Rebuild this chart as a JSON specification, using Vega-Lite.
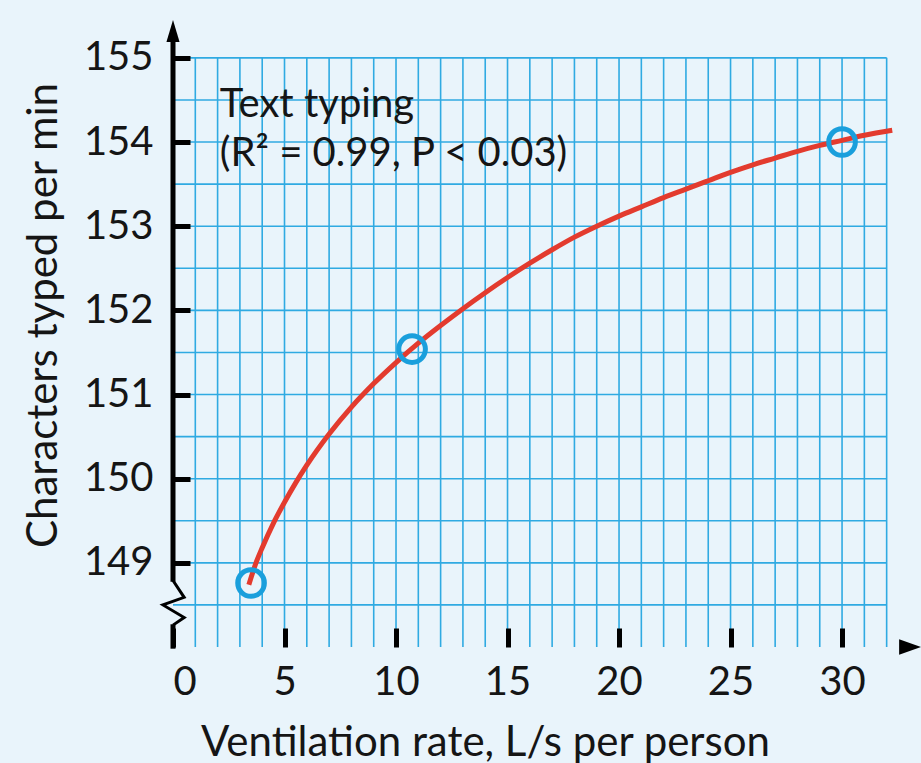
{
  "$schema": "https://vega.github.io/schema/vega-lite/v6.json",
  "width": 748,
  "height": 627,
  "autosize": {"type": "none"},
  "padding": {"left": 173, "top": 20, "right": 0, "bottom": 116},
  "background": "#e9f4fb",
  "config": {"view": {"stroke": null}, "font": "Lato"},
  "datasets": {
    "vgrid": [{"gx":1},{"gx":2},{"gx":3},{"gx":4},{"gx":5},{"gx":6},{"gx":7},{"gx":8},{"gx":9},{"gx":10},{"gx":11},{"gx":12},{"gx":13},{"gx":14},{"gx":15},{"gx":16},{"gx":17},{"gx":18},{"gx":19},{"gx":20},{"gx":21},{"gx":22},{"gx":23},{"gx":24},{"gx":25},{"gx":26},{"gx":27},{"gx":28},{"gx":29},{"gx":30},{"gx":31},{"gx":32}],
    "hgrid": [{"gy":148.5},{"gy":149},{"gy":149.5},{"gy":150},{"gy":150.5},{"gy":151},{"gy":151.5},{"gy":152},{"gy":152.5},{"gy":153},{"gy":153.5},{"gy":154},{"gy":154.5},{"gy":155}],
    "curve": [
      {"x":3.4,"y":148.74},{"x":3.75,"y":149.02},{"x":4,"y":149.18},{"x":4.5,"y":149.47},{"x":5,"y":149.72},
      {"x":5.5,"y":149.95},{"x":6,"y":150.16},{"x":7,"y":150.53},{"x":8,"y":150.85},{"x":9,"y":151.13},
      {"x":10,"y":151.38},{"x":11,"y":151.61},{"x":12,"y":151.82},{"x":13,"y":152.02},{"x":14,"y":152.21},
      {"x":15,"y":152.39},{"x":16,"y":152.56},{"x":17,"y":152.72},{"x":18,"y":152.87},{"x":19,"y":153.0},
      {"x":20,"y":153.12},{"x":21,"y":153.23},{"x":22,"y":153.34},{"x":23,"y":153.44},{"x":24,"y":153.54},
      {"x":25,"y":153.64},{"x":26,"y":153.73},{"x":27,"y":153.81},{"x":28,"y":153.89},{"x":29,"y":153.96},
      {"x":30,"y":154.02},{"x":31,"y":154.08},{"x":32.25,"y":154.14}
    ],
    "obs": [{"rate":3.5,"cpm":148.76},{"rate":10.72,"cpm":151.54},{"rate":30,"cpm":154.0}],
    "yaxis": [
      {"seg":"a","o":1,"x":0,"y":155.3},{"seg":"a","o":2,"x":0,"y":148.775},
      {"seg":"b","o":1,"x":0,"y":148.27},{"seg":"b","o":2,"x":0,"y":147.98}
    ],
    "zig": [
      {"o":1,"x":0,"y":148.79},{"o":2,"x":0.5,"y":148.59},{"o":3,"x":-0.45,"y":148.5},
      {"o":4,"x":0.5,"y":148.35},{"o":5,"x":0,"y":148.26}
    ],
    "arrows": [{"dir":"right","ax":33.05,"ay":148},{"dir":"up","ax":0,"ay":155.32}],
    "notes": [{"tx":2.1,"ty":154.3,"t":"Text typing"},{"tx":2.1,"ty":153.72,"t":"(R² = 0.99, P < 0.03)"}]
  },
  "layer": [
    {
      "data": {"name": "vgrid"},
      "mark": {"type": "rule", "color": "#2faae2", "strokeWidth": 1.6},
      "encoding": {
        "x": {"field": "gx", "type": "quantitative",
          "scale": {"domain": [0, 33.54], "nice": false, "zero": false},
          "axis": {"values": [0,5,10,15,20,25,30], "domain": false, "grid": false,
            "ticks": true, "tickColor": "#000", "tickWidth": 5, "tickSize": -19, "tickCap": "butt",
            "labelFontSize": 40, "labelColor": "#151515", "labelPadding": 34, "labelFont": "Lato",
            "title": "Ventilation rate, L/s per person", "titleFontSize": 42, "titleFontWeight": "normal",
            "titleColor": "#151515", "titleFont": "Lato", "titleX": 312, "titleY": 108,
            "titleAlign": "center", "titleAnchor": null, "titleBaseline": "alphabetic", "zindex": 1}},
        "y": {"datum": 148, "type": "quantitative",
          "scale": {"domain": [148, 155.45], "nice": false, "zero": false},
          "axis": {"values": [149,150,151,152,153,154,155], "format": "d", "domain": false, "grid": false,
            "ticks": true, "tickColor": "#000", "tickWidth": 5, "tickSize": -17, "tickCap": "butt",
            "labelFontSize": 40, "labelColor": "#151515", "labelPadding": 37, "labelFont": "Lato",
            "title": "Characters typed per min", "titleFontSize": 42, "titleFontWeight": "normal",
            "titleColor": "#151515", "titleFont": "Lato", "titleX": -117, "titleY": 295,
            "titleAlign": "center", "titleAnchor": null, "titleBaseline": "alphabetic", "zindex": 1}},
        "y2": {"datum": 155}
      }
    },
    {
      "data": {"name": "hgrid"},
      "mark": {"type": "rule", "color": "#2faae2", "strokeWidth": 1.6},
      "encoding": {
        "y": {"field": "gy", "type": "quantitative"},
        "x": {"datum": 0, "type": "quantitative"},
        "x2": {"datum": 32}
      }
    },
    {
      "data": {"name": "notes"},
      "mark": {"type": "text", "align": "left", "baseline": "alphabetic", "fontSize": 40, "font": "Lato", "color": "#151515"},
      "encoding": {
        "x": {"field": "tx", "type": "quantitative"},
        "y": {"field": "ty", "type": "quantitative"},
        "text": {"field": "t"}
      }
    },
    {
      "data": {"name": "curve"},
      "mark": {"type": "line", "color": "#e33b2e", "strokeWidth": 5, "interpolate": "monotone"},
      "encoding": {
        "x": {"field": "x", "type": "quantitative"},
        "y": {"field": "y", "type": "quantitative"}
      }
    },
    {
      "data": {"name": "obs"},
      "mark": {"type": "point", "shape": "circle", "filled": false, "stroke": "#1a9fdc", "strokeWidth": 5, "size": 710, "opacity": 1},
      "encoding": {
        "x": {"field": "rate", "type": "quantitative"},
        "y": {"field": "cpm", "type": "quantitative"}
      }
    },
    {
      "data": {"name": "yaxis"},
      "mark": {"type": "line", "color": "#000", "strokeWidth": 5, "strokeCap": "butt"},
      "encoding": {
        "x": {"field": "x", "type": "quantitative"},
        "y": {"field": "y", "type": "quantitative"},
        "detail": {"field": "seg"},
        "order": {"field": "o"}
      }
    },
    {
      "data": {"name": "zig"},
      "mark": {"type": "line", "color": "#000", "strokeWidth": 3, "strokeJoin": "miter"},
      "encoding": {
        "x": {"field": "x", "type": "quantitative"},
        "y": {"field": "y", "type": "quantitative"},
        "order": {"field": "o"}
      }
    },
    {
      "mark": {"type": "rule", "color": "#000", "strokeWidth": 5},
      "encoding": {
        "x": {"datum": -0.11, "type": "quantitative"},
        "x2": {"datum": 33},
        "y": {"datum": 148, "type": "quantitative"}
      }
    },
    {
      "data": {"name": "arrows"},
      "mark": {"type": "point", "filled": true, "color": "#000", "size": 480, "opacity": 1},
      "encoding": {
        "x": {"field": "ax", "type": "quantitative"},
        "y": {"field": "ay", "type": "quantitative"},
        "shape": {"field": "dir", "type": "nominal",
          "scale": {"domain": ["right", "up"], "range": ["M1,0L-1,-0.7L-1,0.7Z", "M0,-1L0.6,1L-0.6,1Z"]},
          "legend": null}
      }
    }
  ]
}
